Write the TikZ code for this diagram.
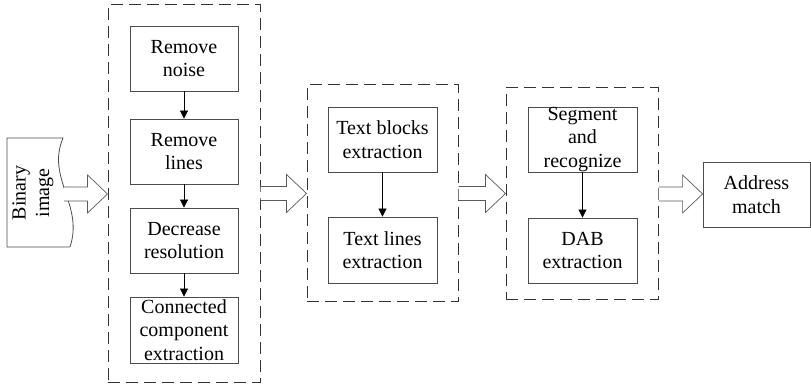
\documentclass[tikz,border=0pt]{standalone}
\usepackage{fontspec}
\setmainfont{Liberation Serif}
\usetikzlibrary{arrows.meta,calc}
\tikzset{
  lbl/.style={font=\fontsize{20}{23.5}\selectfont, align=center, text=black},
  blk/.style={lbl, draw=black!70, line width=0.8pt, minimum width=108pt, minimum height=65pt, inner sep=0pt},
  dbox/.style={draw=black!80, line width=1pt, dash pattern=on 12pt off 6pt, inner sep=0pt},
  flow/.style={draw=black, line width=0.7pt, -{Triangle[width=8pt,length=8pt]}},
  harrowstyle/.style={draw=black!65, line width=0.7pt, fill=white, line join=miter},
  docstyle/.style={draw=black!70, line width=0.8pt}
}
\newcommand\harrow[2]{\path[harrowstyle] let \p1=(#1), \p2=(#2) in
  (\x1,\y1+7pt) -- (\x2-20pt,\y1+7pt) -- (\x2-20pt,\y1+19pt) -- (\x2,\y1) --
  (\x2-20pt,\y1-19pt) -- (\x2-20pt,\y1-7pt) -- (\x1,\y1-7pt);}
\begin{document}
\begin{tikzpicture}[x=1pt,y=-1pt]
\useasboundingbox (0,0) rectangle (811,387);
% document shape
\path[docstyle] (7,138) -- (63,138) .. controls (46,178) and (84,205) .. (70,247) -- (7,247) -- cycle;
\node[lbl, rotate=90] (doc) at (33,193) {Binary\\image};
\coordinate (docedge) at (64,194);
% group boxes
\node[dbox, minimum width=152pt, minimum height=377pt] (g1) at (184,193.5) {};
\node[dbox, minimum width=151pt, minimum height=217pt] (g2) at (382.5,193.5) {};
\node[dbox, minimum width=152pt, minimum height=212pt] (g3) at (582,194) {};
% group 1
\node[blk] (rn) at (184,58.5) {Remove\\noise};
\node[blk] (rl) at (184,151.5) {Remove\\lines};
\node[blk] (dr) at (184,240.5) {Decrease\\resolution};
\node[blk, minimum height=66pt] (cc) at (184,330) {Connected\\component\\extraction};
\draw[flow] (rn) -- (rl);
\draw[flow] (rl) -- (dr);
\draw[flow] (dr) -- (cc);
% group 2
\node[blk, minimum width=109pt] (tb) at (382.5,139.5) {Text blocks\\extraction};
\node[blk, minimum width=109pt, minimum height=66pt] (tl) at (382.5,250) {Text lines\\extraction};
\draw[flow] (tb) -- (tl);
% group 3
\node[blk, minimum width=109pt] (sr) at (582.5,139.5) {Segment\\and\\recognize};
\node[blk, minimum width=109pt] (dab) at (582.5,250.5) {DAB\\extraction};
\draw[flow] (sr) -- (dab);
% address
\node[blk, minimum width=107pt] (am) at (756.5,194.5) {Address\\match};
% hollow arrows
\harrow{docedge}{g1.west}
\harrow{g1.east}{g2.west}
\harrow{g2.east}{g3.west}
\harrow{g3.east}{am.west}
\end{tikzpicture}
\end{document}
